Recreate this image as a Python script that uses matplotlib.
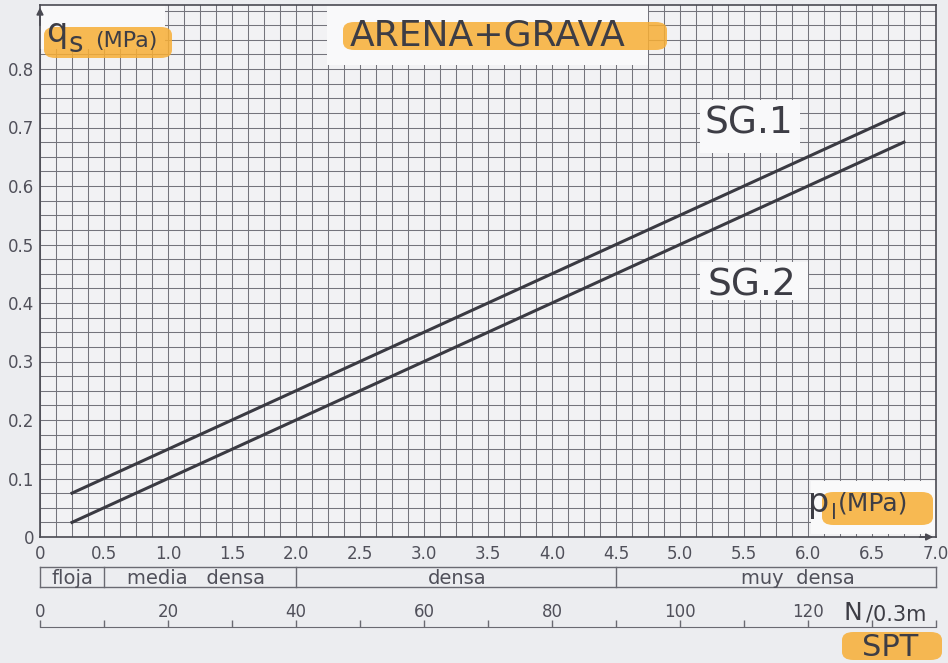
import matplotlib.pyplot as plt
from matplotlib.patches import Rectangle, FancyBboxPatch
from matplotlib.ticker import MultipleLocator

# ejes principales
pl_ticks = [0, 0.5, 1.0, 1.5, 2.0, 2.5, 3.0, 3.5, 4.0, 4.5, 5.0, 5.5, 6.0, 6.5, 7.0]
pl_labels = ["0", "0.5", "1.0", "1.5", "2.0", "2.5", "3.0", "3.5", "4.0",
             "4.5", "5.0", "5.5", "6.0", "6.5", "7.0"]
qs_ticks = [0, 0.1, 0.2, 0.3, 0.4, 0.5, 0.6, 0.7, 0.8]
qs_labels = ["0", "0.1", "0.2", "0.3", "0.4", "0.5", "0.6", "0.7", "0.8"]

# curvas SG.1 y SG.2
pl = [0.25, 6.75]
qs_sg1 = [0.075, 0.725]
qs_sg2 = [0.025, 0.675]

# compacidad
clases = ["floja", "media   densa", "densa", "muy  densa"]
limites_clases = [0, 0.5, 2.0, 4.5, 7.0]
pos_clases = [0.25, 1.22, 3.26, 5.92]

# escala SPT
spt_ticks = [0, 20, 40, 60, 80, 100, 120]
spt_labels = ["0", "20", "40", "60", "80", "100", "120"]
SPT_POR_MPA = 20

W, H = 948, 663
GRIS = "#3d3d45"
GRIS_T = "#50505a"
NARANJA = "#f7ae35"


def px(x, y):
    return x / W, 1 - y / H


fig = plt.figure(figsize=(W / 100, H / 100), dpi=100, facecolor="#ecedf0")
ax = fig.add_axes([40 / W, 126 / H, 896 / W, 532 / H], facecolor="#f2f2f4")
ax.set_xlim(0, 7.0)
ax.set_ylim(0, 532 / 585)

ax.set_xticks(pl_ticks, pl_labels)
ax.set_yticks(qs_ticks, qs_labels)
ax.xaxis.set_minor_locator(MultipleLocator(0.125))
ax.yaxis.set_minor_locator(MultipleLocator(0.025))
ax.tick_params(which="both", length=0)
ax.tick_params(axis="x", pad=6, labelsize=12, labelcolor=GRIS_T)
ax.tick_params(axis="y", pad=4, labelsize=12, labelcolor=GRIS_T)
ax.set_axisbelow(True)
ax.grid(which="both", color="#74747c", linewidth=0.75)
for s in ax.spines.values():
    s.set_color("#4a4a52")
    s.set_linewidth(1.2)

# cajas blancas sobre la cuadricula
cajas = [(0, 0.835, 0.98, 0.08), (2.24, 0.807, 2.51, 0.11),
         (5.16, 0.657, 0.78, 0.09), (5.16, 0.405, 0.84, 0.065),
         (6.02, 0.005, 0.98, 0.09)]
for x0, y0, w, h in cajas:
    ax.add_patch(Rectangle((x0, y0), w, h, facecolor="#f9f9fa",
                           edgecolor="none", zorder=2))

ax.plot(pl, qs_sg1, color="#3a3a42", linewidth=2.2, zorder=3)
ax.plot(pl, qs_sg2, color="#3a3a42", linewidth=2.2, zorder=3)

# flechas de los ejes
ax.annotate("", xy=(0, 0.91), xytext=(0, 0.87),
            arrowprops=dict(arrowstyle="-|>", color="#4a4a52", lw=1.2),
            annotation_clip=False, zorder=6)
ax.annotate("", xy=(7.0, 0), xytext=(6.85, 0),
            arrowprops=dict(arrowstyle="-|>", color="#4a4a52", lw=1.2),
            annotation_clip=False, zorder=6)

# resaltados
resaltados = [(44, 27, 128, 31), (343, 22, 324, 28),
              (822, 492, 111, 33), (842, 632, 100, 28)]
for x0, y0, w, h in resaltados:
    fx, fy = px(x0, y0 + h)
    ax.add_patch(FancyBboxPatch((fx, fy), w / W, h / H,
                                boxstyle="round,pad=0,rounding_size=0.012",
                                transform=fig.transFigure, facecolor=NARANJA,
                                edgecolor="none", alpha=0.85, zorder=4,
                                clip_on=False))

# textos
ax.text(*px(46, 42), "q", transform=fig.transFigure, fontsize=24,
        color=GRIS, va="baseline", zorder=5)
ax.text(*px(68, 52), "s", transform=fig.transFigure, fontsize=20,
        color=GRIS, va="baseline", zorder=5)
ax.text(*px(95, 47), "(MPa)", transform=fig.transFigure, fontsize=16,
        color=GRIS, va="baseline", zorder=5)
ax.text(*px(488, 45), "ARENA+GRAVA", transform=fig.transFigure, fontsize=26,
        color=GRIS, ha="center", va="baseline", zorder=5)
ax.text(*px(749, 133), "SG.1", transform=fig.transFigure, fontsize=27,
        color=GRIS, ha="center", va="baseline", zorder=5)
ax.text(*px(752, 295), "SG.2", transform=fig.transFigure, fontsize=27,
        color=GRIS, ha="center", va="baseline", zorder=5)
ax.text(*px(808, 512), "p", transform=fig.transFigure, fontsize=24,
        color=GRIS, va="baseline", zorder=5)
ax.text(*px(831, 519), "l", transform=fig.transFigure, fontsize=15,
        color=GRIS, va="baseline", zorder=5)
ax.text(*px(838, 511), "(MPa)", transform=fig.transFigure, fontsize=18,
        color=GRIS, va="baseline", zorder=5)
ax.text(*px(843, 620), "N", transform=fig.transFigure, fontsize=18,
        color=GRIS, va="baseline", zorder=5)
ax.text(*px(866, 620), "/0.3m", transform=fig.transFigure, fontsize=15,
        color=GRIS, va="baseline", zorder=5)
ax.text(*px(890, 656), "SPT", transform=fig.transFigure, fontsize=22,
        color=GRIS, ha="center", va="baseline", zorder=5)

# banda de compacidad
trans = ax.get_xaxis_transform()
y_sup, y_inf = -30 / 532, -50 / 532
ax.plot([0, 7.0], [y_sup, y_sup], transform=trans, clip_on=False,
        color="#6a6a72", linewidth=1)
ax.plot([0, 7.0], [y_inf, y_inf], transform=trans, clip_on=False,
        color="#6a6a72", linewidth=1)
for x in limites_clases:
    ax.plot([x, x], [y_sup, y_inf], transform=trans, clip_on=False,
            color="#6a6a72", linewidth=1)
for x, nombre in zip(pos_clases, clases):
    ax.text(x, -41 / 532, nombre, transform=trans, fontsize=14, color=GRIS_T,
            ha="center", va="center")

# escala SPT
secax = ax.secondary_xaxis(-90 / 532, functions=(lambda p: p * SPT_POR_MPA,
                                                  lambda n: n / SPT_POR_MPA))
secax.set_xticks(spt_ticks, spt_labels)
secax.xaxis.set_minor_locator(MultipleLocator(10))
secax.tick_params(which="both", direction="in", length=5, width=1,
                  color="#6a6a72", bottom=True, top=False,
                  labelbottom=False, labeltop=True, pad=4,
                  labelsize=12, labelcolor=GRIS_T)
for s in secax.spines.values():
    s.set_color("#6a6a72")

fig.savefig("out.png", dpi=100, facecolor=fig.get_facecolor())
